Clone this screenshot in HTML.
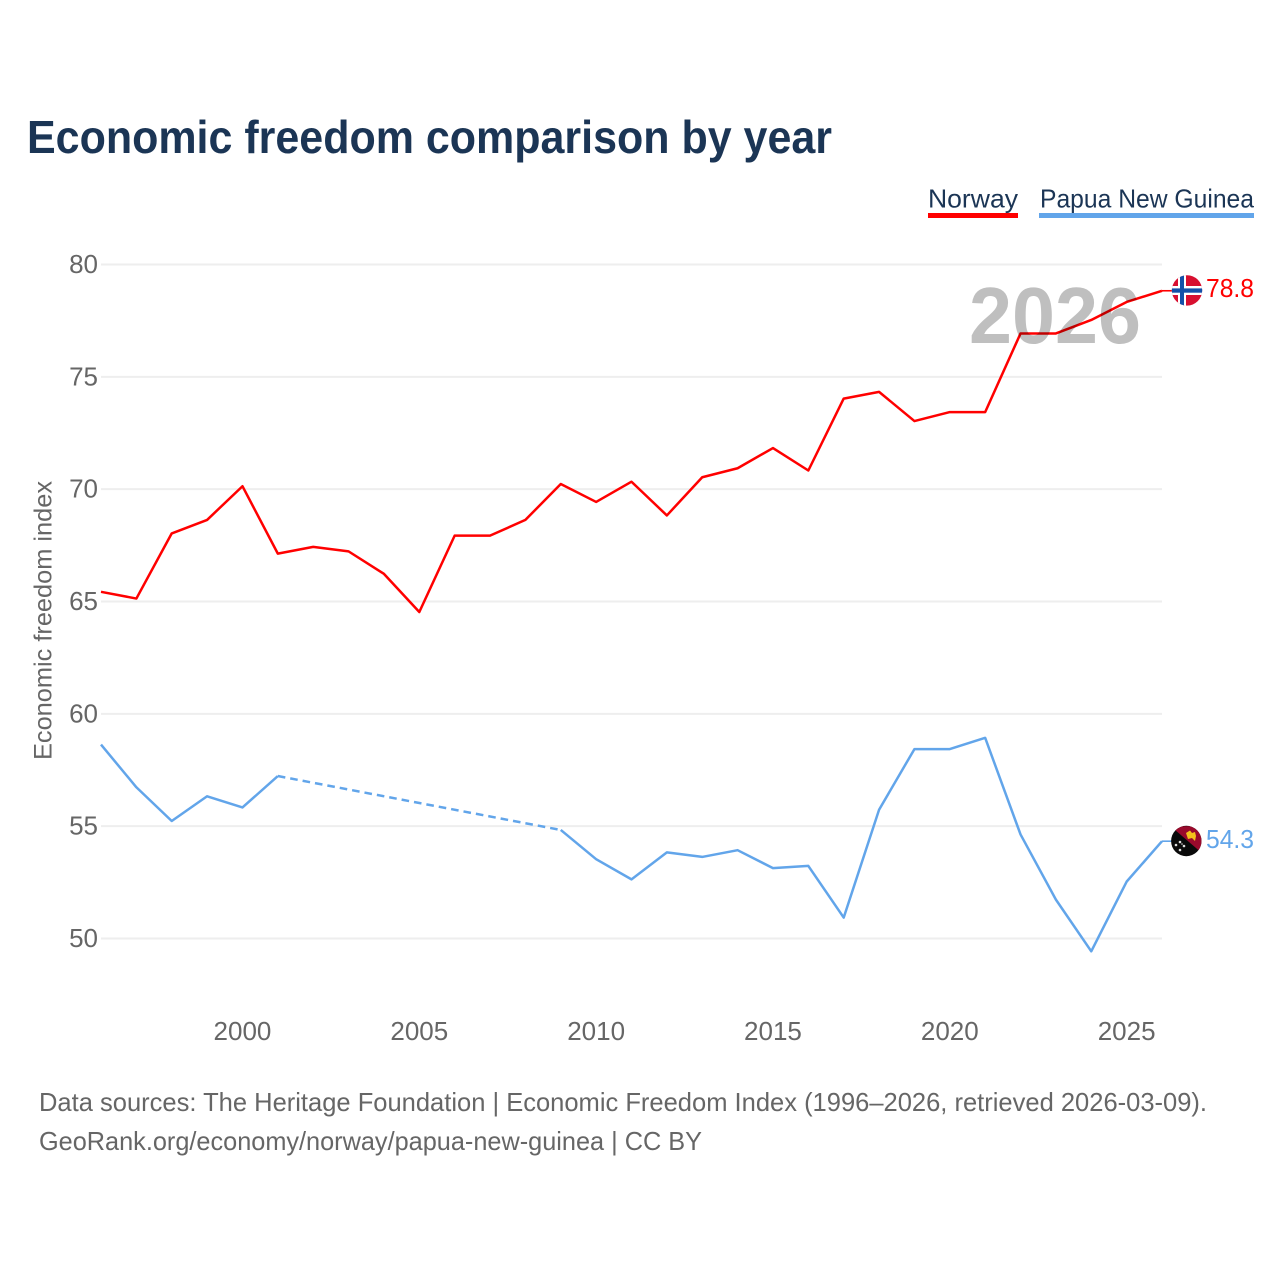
<!DOCTYPE html>
<html lang="en">
<head>
<meta charset="utf-8">
<title>Economic freedom comparison by year</title>
<style>
html,body{margin:0;padding:0;background:#fff;width:1280px;height:1280px;overflow:hidden}
svg{display:block}
text{font-family:"Liberation Sans",sans-serif}
</style>
</head>
<body>
<svg id="chart" width="1280" height="1280" viewBox="0 0 1280 1280" xmlns="http://www.w3.org/2000/svg">
  <defs>
    <clipPath id="clip-no"><circle cx="1187" cy="290.4" r="15.2"/></clipPath>
    <clipPath id="clip-pg"><circle cx="1186.3" cy="841" r="15.2"/></clipPath>
  </defs>
  <rect width="1280" height="1280" fill="#fff"/>
  <text x="27" y="153" font-size="46" font-weight="bold" fill="#1b3555" textLength="805" lengthAdjust="spacingAndGlyphs">Economic freedom comparison by year</text>

  <g>
    <text x="928" y="207.5" font-size="26" fill="#1b3555" textLength="90" lengthAdjust="spacingAndGlyphs">Norway</text>
    <rect x="928" y="213" width="90" height="5" fill="#ff0000"/>
  </g>
  <g>
    <text x="1040" y="207.5" font-size="26" fill="#1b3555" textLength="214" lengthAdjust="spacingAndGlyphs">Papua New Guinea</text>
    <rect x="1039" y="213" width="215" height="5" fill="#62a5ea"/>
  </g>

  <g id="grid"></g>
  <g id="yticks"></g>
  <g id="xticks"></g>

  <text transform="translate(51.5,760) rotate(-90)" x="0" y="0" font-size="25" fill="#666" textLength="279" lengthAdjust="spacingAndGlyphs">Economic freedom index</text>

  <g id="series"></g>

  <text x="969" y="343" font-size="80" font-weight="bold" fill="#000" fill-opacity="0.25" textLength="172" lengthAdjust="spacingAndGlyphs">2026</text>

  <g clip-path="url(#clip-no)">
    <rect x="1171" y="275" width="32" height="31" fill="#d80f30"/>
    <rect x="1178" y="275" width="8" height="31" fill="#fff"/>
    <rect x="1171" y="286" width="32" height="9" fill="#fff"/>
    <rect x="1180" y="275" width="4" height="31" fill="#1450a8"/>
    <rect x="1171" y="288.4" width="32" height="4.3" fill="#1450a8"/>
  </g>
  <text x="1206" y="297" font-size="26" fill="#ff0000" textLength="48" lengthAdjust="spacingAndGlyphs">78.8</text>

  <g clip-path="url(#clip-pg)">
    <rect x="1170" y="825" width="33" height="33" fill="#0a0a0a"/>
    <polygon points="1171,826.5 1203,826 1203,854" fill="#9a0a2c"/>
    <polygon points="1186,833 1190,830.5 1192,833 1195,832 1196,836 1195,841 1192,838 1188,839 1187,836" fill="#f4c21b"/>
    <circle cx="1180" cy="842" r="1.3" fill="#ddd"/>
    <circle cx="1176" cy="845" r="1.3" fill="#ddd"/>
    <circle cx="1184" cy="846" r="1.3" fill="#ddd"/>
    <circle cx="1180" cy="850" r="1.3" fill="#ddd"/>
    <circle cx="1182" cy="844" r="0.8" fill="#ddd"/>
  </g>
  <text x="1206" y="848" font-size="26" fill="#62a5ea" textLength="48" lengthAdjust="spacingAndGlyphs">54.3</text>

  <text x="39" y="1111" font-size="26" fill="#666" textLength="1168" lengthAdjust="spacingAndGlyphs">Data sources: The Heritage Foundation | Economic Freedom Index (1996–2026, retrieved 2026-03-09).</text>
  <text x="39" y="1150" font-size="26" fill="#666" textLength="663" lengthAdjust="spacingAndGlyphs">GeoRank.org/economy/norway/papua-new-guinea | CC BY</text>
</svg>
<script>
const years = [1996,1997,1998,1999,2000,2001,2002,2003,2004,2005,2006,2007,2008,2009,2010,2011,2012,2013,2014,2015,2016,2017,2018,2019,2020,2021,2022,2023,2024,2025,2026];
const norway = [65.4,65.1,68.0,68.6,70.1,67.1,67.4,67.2,66.2,64.5,67.9,67.9,68.6,70.2,69.4,70.3,68.8,70.5,70.9,71.8,70.8,74.0,74.3,73.0,73.4,73.4,76.9,76.9,77.5,78.3,78.8];
const papuaNewGuinea = [58.6,56.7,55.2,56.3,55.8,57.2,null,null,null,null,null,null,null,54.8,53.5,52.6,53.8,53.6,53.9,53.1,53.2,50.9,55.7,58.4,58.4,58.9,54.6,51.7,49.4,52.5,54.3];
const yTicks = [50,55,60,65,70,75,80];
const xTicks = [2000,2005,2010,2015,2020,2025];

const NS = 'http://www.w3.org/2000/svg';
function xScale(year){ return 101 + (year - 1996) * (1162 - 101) / 30; }
function yScale(v){ return 938.5 - (v - 50) * (938.5 - 264.5) / 30; }
function yLine(v){ return yScale(v) - 0.7; }
function make(tag, attrs, parent){
  const el = document.createElementNS(NS, tag);
  Object.keys(attrs).forEach(function(k){ el.setAttribute(k, attrs[k]); });
  parent.appendChild(el);
  return el;
}

const grid = document.getElementById('grid');
const yG = document.getElementById('yticks');
yTicks.forEach(function(t){
  const line = make('line', {x1:101, x2:1162, y1:yScale(t), y2:yScale(t), stroke:'#eeeeee', 'stroke-width':2}, grid);
  
  
  const label = make('text', {x:98, y:yScale(t)+8.5, 'text-anchor':'end', 'font-size':26, fill:'#666'}, yG);
  label.textContent = t;
  
  
});

const xG = document.getElementById('xticks');
xTicks.forEach(function(t){
  const label = make('text', {x:xScale(t), y:1040, 'text-anchor':'middle', 'font-size':26, fill:'#666'}, xG);
  label.textContent = t;
  
  
});

function drawSeries(values, color, parent){
  // Solid runs through consecutive points; dashed bridge over missing years.
  let run = [];
  let lastIdx = null;
  function flush(){
    if (run.length > 1) {
      const solid = make('polyline', {points:run.join(' '), fill:'none', stroke:color, 'stroke-width':2.5, 'stroke-linejoin':'round'}, parent);
      
      
    }
    run = [];
  }
  values.forEach(function(v, i){
    if (v === null) return;
    const p = xScale(years[i]) + ',' + yLine(v);
    if (lastIdx !== null && i - lastIdx > 1) {
      flush();
      const gap = make('line', {x1:xScale(years[lastIdx]), y1:yLine(values[lastIdx]), x2:xScale(years[i]), y2:yLine(v), stroke:color, 'stroke-width':2.5, 'stroke-dasharray':'7.6 5'}, parent);
      
      
    }
    run.push(p);
    lastIdx = i;
  });
  flush();
  const lastV = values[lastIdx];
  const lead = make('line', {x1:xScale(years[lastIdx]), y1:yLine(lastV), x2:1172, y2:yLine(lastV), stroke:color, 'stroke-width':1.6}, parent);
  
  
}
const seriesG = document.getElementById('series');
drawSeries(norway, '#ff0000', seriesG);
drawSeries(papuaNewGuinea, '#62a5ea', seriesG);
</script>
</body>
</html>
